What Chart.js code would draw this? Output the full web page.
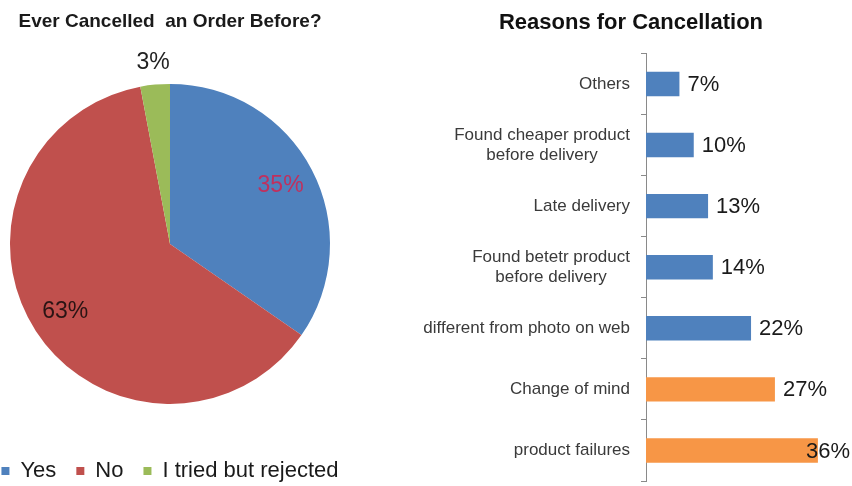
<!DOCTYPE html>
<html>
<head>
<meta charset="utf-8">
<script src="https://cdn.jsdelivr.net/npm/chart.js@4.4.1/dist/chart.umd.min.js"></script>
<style>
  html, body { margin: 0; padding: 0; background: #fff; overflow: hidden; width: 852px; height: 486px; }
  #pieBox { position: absolute; left: -30px; top: 0; width: 400px; height: 492px; }
  #barBox { position: absolute; left: 410px; top: 0; width: 442px; height: 486px; }
</style>
</head>
<body>
<div id="pieBox"><canvas id="pie" width="400" height="492"></canvas></div>
<div id="barBox"><canvas id="bar" width="442" height="486"></canvas></div>
<script>
const FONT = '"Liberation Sans", Arial, sans-serif';

// Survey: has the respondent ever cancelled an order?
const pieTitle = 'Ever Cancelled  an Order Before?';
const pieLabels = ['Yes', 'No', 'I tried but rejected'];
const pieValues = [35, 63, 3];
const pieColors = ['#4F81BD', '#C0504D', '#9BBB59'];
const pieLabelColors = ['#C0305E', '#2a1414', '#222222'];

// Reasons given for cancelling
const barTitle = 'Reasons for Cancellation';
const reasons = [
  ['Others'],
  ['Found cheaper product', 'before delivery'],
  ['Late delivery'],
  ['Found betetr product', 'before delivery'],
  ['different from photo on web'],
  ['Change of mind'],
  ['product failures']
];
const reasonValues = [7, 10, 13, 14, 22, 27, 36];
const reasonColors = ['#4F81BD', '#4F81BD', '#4F81BD', '#4F81BD', '#4F81BD', '#F79646', '#F79646'];

// Percentage labels on the pie slices: big slices inside, small ones outside
const pieValueLabels = {
  id: 'pieValueLabels',
  afterDatasetsDraw(chart, args, opts) {
    const ctx = chart.ctx;
    const meta = chart.getDatasetMeta(0);
    const data = chart.data.datasets[0].data;
    ctx.save();
    ctx.font = opts.size + 'px ' + FONT;
    ctx.textAlign = 'center';
    ctx.textBaseline = 'middle';
    meta.data.forEach((arc, i) => {
      const p = arc.getProps(['x', 'y', 'startAngle', 'endAngle', 'outerRadius'], true);
      const mid = (p.startAngle + p.endAngle) / 2;
      const r = p.outerRadius * (data[i] < opts.insideMin ? opts.outside : opts.inside);
      ctx.fillStyle = opts.colors[i];
      ctx.fillText(data[i] + '%', p.x + Math.cos(mid) * r, p.y + Math.sin(mid) * r);
    });
    ctx.restore();
  }
};

// Category names (lines centred within a right-aligned block) and value labels
const barLabels = {
  id: 'barLabels',
  afterDatasetsDraw(chart, args, opts) {
    const ctx = chart.ctx;
    const y = chart.scales.y;
    ctx.save();
    ctx.textBaseline = 'middle';

    ctx.font = opts.catSize + 'px ' + FONT;
    ctx.fillStyle = opts.catColor;
    ctx.textAlign = 'center';
    const right = y.right - opts.catGap;
    chart.data.labels.forEach((lines, i) => {
      const py = y.getPixelForValue(i);
      const w = Math.max(...lines.map(l => ctx.measureText(l).width));
      const cx = right - w / 2;
      lines.forEach((l, j) => {
        ctx.fillText(l, cx, py + (j - (lines.length - 1) / 2) * opts.lineHeight);
      });
    });

    ctx.font = opts.valSize + 'px ' + FONT;
    ctx.fillStyle = opts.valColor;
    ctx.textAlign = 'left';
    const data = chart.data.datasets[0].data;
    chart.getDatasetMeta(0).data.forEach((bar, i) => {
      const txt = data[i] + '%';
      const tw = ctx.measureText(txt).width;
      const x = Math.min(bar.x + opts.valGap, chart.width - tw - 2);
      ctx.fillText(txt, x, bar.y + 1);
    });
    ctx.restore();
  }
};

new Chart(document.getElementById('pie'), {
  type: 'pie',
  data: {
    labels: pieLabels,
    datasets: [{ data: pieValues, backgroundColor: pieColors, borderWidth: 0, radius: 160 }]
  },
  options: {
    responsive: false,
    animation: false,
    events: [],
    plugins: {
      title: {
        display: true, text: pieTitle, color: '#1a1a1a',
        font: { family: FONT, size: 19, weight: 'bold' },
        padding: { top: 10, bottom: 15 }
      },
      legend: {
        position: 'bottom',
        labels: {
          boxWidth: 8, boxHeight: 8, padding: 20, color: '#1a1a1a',
          font: { family: FONT, size: 22 }
        }
      },
      tooltip: { enabled: false },
      pieValueLabels: { size: 23, colors: pieLabelColors, insideMin: 5, inside: 0.78, outside: 1.14 }
    }
  },
  plugins: [pieValueLabels]
});

new Chart(document.getElementById('bar'), {
  type: 'bar',
  data: {
    labels: reasons,
    datasets: [{ data: reasonValues, backgroundColor: reasonColors, borderWidth: 0, barPercentage: 0.4, categoryPercentage: 1 }]
  },
  options: {
    indexAxis: 'y',
    responsive: false,
    animation: false,
    events: [],
    layout: { padding: { left: 15, right: 15, bottom: 5 } },
    scales: {
      x: { display: false, min: 0, max: 40 },
      y: {
        afterFit(scale) { scale.width = 221; },
        border: { display: true, color: '#8a8a8a', width: 1 },
        grid: { drawOnChartArea: false, drawTicks: true, tickLength: 5, color: '#8a8a8a', offset: true },
        ticks: { display: false }
      }
    },
    plugins: {
      legend: { display: false },
      tooltip: { enabled: false },
      title: {
        display: true, text: barTitle, color: '#111111',
        font: { family: FONT, size: 22, weight: 'bold' },
        padding: { top: 10, bottom: 17 }
      },
      barLabels: { catSize: 17, catColor: '#3a3a3a', catGap: 16, lineHeight: 20, valSize: 22, valColor: '#1a1a1a', valGap: 8 }
    }
  },
  plugins: [barLabels]
});
</script>
</body>
</html>
